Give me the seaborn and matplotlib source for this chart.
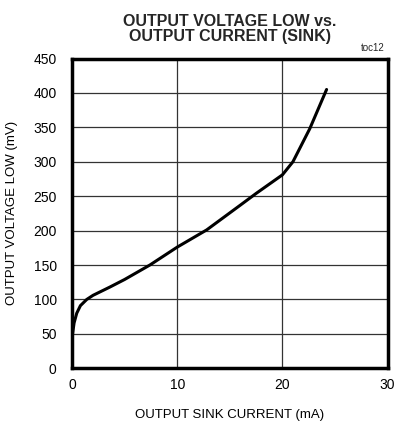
import matplotlib
matplotlib.use("Agg")
import matplotlib.pyplot as plt
import seaborn as sns
import pandas as pd

sink_current_ma = [0.05, 0.2, 0.45, 0.8, 1.4, 2.0, 3.6, 5.0, 7.4, 10.0, 12.8, 16.0, 17.5, 20.0, 21.0, 22.6, 24.2]
vol_mv = [50, 66, 80, 91, 100, 106, 118, 129, 150, 176, 201, 237, 254, 281, 300, 348, 405]
x_ticks = [0, 10, 20, 30]
y_ticks = [0, 50, 100, 150, 200, 250, 300, 350, 400, 450]

sns.set_theme(style="white")
plt.rcParams['font.family'] = ['Liberation Sans', 'DejaVu Sans']

df = pd.DataFrame({"x": sink_current_ma, "y": vol_mv})

fig = plt.figure(figsize=(4.0, 4.29), dpi=100)
ax = fig.add_axes([0.18, 0.1415, 0.789, 0.7221])
sns.lineplot(data=df, x="x", y="y", ax=ax, color="black", linewidth=2.2, sort=False)

ax.set_xlim(0, 30)
ax.set_ylim(0, 450)
ax.set_xticks(x_ticks)
ax.set_yticks(y_ticks)
ax.tick_params(axis="both", length=0, labelsize=10, colors="black")
ax.tick_params(axis="y", pad=11)
ax.tick_params(axis="x", pad=7)
ax.grid(True, color="#333333", linewidth=0.9)
for s in ax.spines.values():
    s.set_visible(True)
    s.set_color("black")
    s.set_linewidth(2.5)
ax.set_xlabel("OUTPUT SINK CURRENT (mA)", fontsize=9.5, labelpad=12, color="black")
ax.set_ylabel("OUTPUT VOLTAGE LOW (mV)", fontsize=9.5, labelpad=11, color="black")
fig.text(0.574, 0.968, "OUTPUT VOLTAGE LOW vs.\nOUTPUT CURRENT (SINK)", ha="center", va="top",
         fontsize=11.5, fontweight="bold", linespacing=1.0)
fig.text(0.962, 0.877, "toc12", ha="right", va="bottom", fontsize=7)
fig.savefig("out.png", dpi=100)
